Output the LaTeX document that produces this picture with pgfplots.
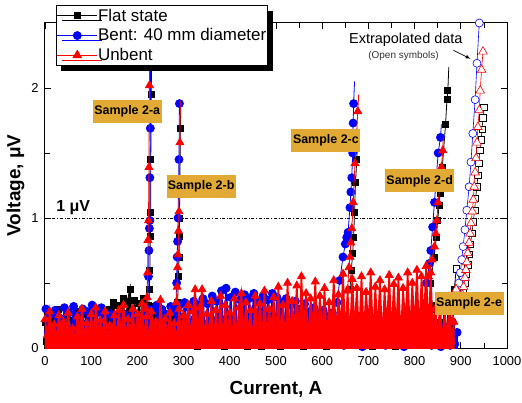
\documentclass[border=0pt]{standalone}
\usepackage{fontspec}
\setmainfont{Liberation Sans}
\usepackage{pgfplots}
\pgfplotsset{compat=1.18}
\usetikzlibrary{shadows}
\definecolor{boxgold}{RGB}{226,170,52}
\begin{document}
\begin{tikzpicture}
\begin{axis}[
  scale only axis, width=462bp, height=325bp,
  xmin=0, xmax=1000, ymin=0, ymax=2.5,
  xtick={0,100,...,1000}, minor x tick num=1,
  ytick={0,1,2}, minor y tick num=1,
  tick align=inside, major tick length=6bp, minor tick length=5bp,
  tick style={black, line width=0.8bp},
  axis line style={line width=1bp},
  /pgf/number format/assume math mode=true,
  /pgf/number format/1000 sep={},
  ticklabel style={font=\fontsize{13}{13}\selectfont},
  xticklabel style={yshift=-5bp},
  yticklabel style={xshift=-3bp},
  xlabel={Current, A}, ylabel={Voltage, μV},
  label style={font=\fontsize{19}{19}\selectfont\bfseries},
  xlabel style={yshift=-9bp},
  clip mode=individual,
  legend style={at={(0.0233,1.055)}, anchor=north west, draw=black, line width=1bp, fill=white,
    font=\fontsize{17}{17}\selectfont, row sep=1bp, inner sep=0.8bp,
    nodes={inner xsep=0.5bp, inner ysep=2.5bp},
    drop shadow={shadow xshift=5bp, shadow yshift=-5bp, fill=black, opacity=1}},
  legend cell align=left,
  legend image code/.code={\draw[mark repeat=2,mark phase=2,#1] plot coordinates {(0cm,0cm) (0.7cm,0cm) (1.4cm,0cm)};},
]
\addlegendimage{black, line width=0.8bp, mark=square*, mark size=3bp}
\addlegendentry{Flat state}
\addlegendimage{blue, line width=0.8bp, mark=*, mark size=4bp}
\addlegendentry{Bent: 40 mm diameter}
\addlegendimage{red, line width=0.8bp, mark=triangle*, mark size=5bp}
\addlegendentry{Unbent}

\addplot[black, dashdotted, line width=0.6bp, forget plot] coordinates {(0,1) (1000,1)};

% ---------------- Flat state (black) ----------------
\pgfplotsset{blk/.style={black, line width=0.8bp, mark=square*, mark size=3bp, mark options={solid}}}
\addplot[blk, line width=1.6bp, fill=black, mark options={line width=0.8bp}, forget plot] coordinates {
(0,0.20) (4,0.05) (9,0.27) (14,0.10) (19,0.22) (24,0.03) (29,0.30) (34,0.12) (39,0.18) (44,0.06)
(49,0.25) (54,0.09) (59,0.21) (64,0.02) (69,0.28) (74,0.11) (79,0.19) (84,0.07) (89,0.26) (94,0.13)
(99,0.23) (104,0.04) (109,0.29) (114,0.10) (119,0.20) (124,0.06) (129,0.27) (134,0.14) (139,0.30) (144,0.08)
(149,0.35) (154,0.11) (159,0.33) (164,0.12) (169,0.38) (174,0.15) (179,0.36) (184,0.45) (189,0.12) (194,0.37)
(199,0.10) (204,0.34) (209,0.13) (214,0.38) (219,0.09) (224,0.33) (229,0.06) (234,0.32) (239,0.12) (244,0.25)
(249,0.07) (254,0.29) (259,0.14) (264,0.22) (269,0.03) (274,0.26) (279,0.10) (284,0.21) (289,0.06) (294,0.24)
(299,0.11) (304,0.20) (309,0.02) (314,0.18) (319,0.07) (324,0.22) (329,0.01) (334,0.16) (339,0.05) (344,0.19)
(349,0.03) (354,0.15) (359,0.08) (364,0.21) (369,0.02) (374,0.17) (379,0.06) (384,0.14) (389,0.01) (394,0.19)
(399,0.04) (404,0.13) (409,0.07) (414,0.18) (419,0.02) (424,0.15) (429,0.05) (434,0.12) (439,0.01) (444,0.17)
(449,0.06) (454,0.11) (459,0.03) (464,0.16) (469,0.01) (474,0.10) (479,0.05) (484,0.14) (489,0.02) (494,0.12)
(499,0.04) (504,0.09) (509,0.01) (514,0.13) (519,0.03) (524,0.11) (529,0.06) (534,0.15) (539,0.02) (544,0.10)
(549,0.04) (554,0.13) (559,0.01) (564,0.09) (569,0.05) (574,0.14) (579,0.02) (584,0.11) (589,0.03) (594,0.16)
(599,0.05) (604,0.12) (609,0.01) (614,0.18) (619,0.06) (624,0.14) (629,0.02) (634,0.20) (639,0.07) (644,0.16)
(649,0.03) (654,0.22) (659,0.09) (664,0.17) (669,0.04) (674,0.25) (679,0.08) (684,0.19) (689,0.02) (694,0.15)
(699,0.06) (704,0.21) (709,0.01) (714,0.13) (719,0.05) (724,0.18) (729,0.02) (734,0.12) (739,0.07) (744,0.20)
(749,0.03) (754,0.15) (759,0.01) (764,0.17) (769,0.06) (774,0.11) (779,0.02) (784,0.19) (789,0.04) (794,0.14)
(799,0.08) (804,0.22) (809,0.03) (814,0.16) (819,0.05) (824,0.25) (829,0.10) (834,0.30) (839,0.06) (844,0.33)
(849,0.12) (854,0.20) (859,0.04) (864,0.28) (869,0.08) (874,0.35) (879,0.15)} \closedcycle;
% transitions
\addplot[blk, forget plot] coordinates {(224,0.28) (226,0.45) (227,0.60) (228,0.86) (229,1.04) (229,1.45) (230,1.95) (232,2.6)};
\addplot[blk, forget plot] coordinates {(287,0.35) (289,0.55) (290,0.70) (291,0.86) (291,1.00) (292,1.30) (293,1.69)};
\addplot[black, line width=0.8bp, forget plot] coordinates {(293,1.69) (294,1.85)};
\addplot[blk, forget plot] coordinates {(660,0.45) (663,0.60) (666,0.73) (668,0.85) (670,1.04) (672,1.27) (675,1.45)};
\addplot[black, line width=0.8bp, forget plot] coordinates {(675,1.45) (676,1.55)};
\addplot[blk, forget plot] coordinates {(835,0.50) (842,0.70) (847,0.85) (850,0.98) (853,1.10) (855,1.19) (860,1.39) (867,1.72) (870,1.91) (872,1.98)};
\addplot[black, line width=0.8bp, forget plot] coordinates {(872,1.98) (874,2.16)};
\addplot[blk, forget plot] coordinates {(879,0.15) (882,0.30) (886,0.45) (890,0.61)};
\addplot[black, line width=0.6bp, mark=square*, mark size=3.2bp, mark options={fill=white, line width=0.6bp}, forget plot] coordinates {
(890,0.61) (905,0.43) (909,0.50) (912,0.57) (915,0.64) (918,0.72) (921,0.80) (924,0.88) (927,0.97) (930,1.06) (932,1.15)
(935,1.24) (937,1.33) (939,1.42) (941,1.52) (944,1.60) (946,1.68) (948,1.77) (950,1.85)};

% ---------------- Bent (blue) ----------------
\pgfplotsset{blu/.style={blue, line width=0.8bp, mark=*, mark size=4bp, mark options={solid}}}
\addplot[blu, line width=1.6bp, fill=blue, mark options={line width=0.8bp}, forget plot] coordinates {
(2,0.30) (7,0.12) (12,0.26) (17,0.05) (22,0.29) (27,0.15) (32,0.23) (37,0.08) (42,0.31) (47,0.14)
(52,0.27) (57,0.03) (62,0.32) (67,0.11) (72,0.25) (77,0.16) (82,0.30) (87,0.06) (92,0.28) (97,0.13)
(102,0.33) (107,0.09) (112,0.27) (117,0.17) (122,0.31) (127,0.04) (132,0.26) (137,0.14) (142,0.26) (147,0.10)
(152,0.24) (157,0.18) (162,0.22) (167,0.07) (172,0.26) (177,0.15) (182,0.23) (187,0.05) (192,0.27) (197,0.12)
(202,0.24) (207,0.16) (212,0.22) (217,0.08) (222,0.26) (227,0.13) (232,0.29) (237,0.04) (242,0.33) (247,0.17)
(252,0.30) (257,0.09) (262,0.26) (267,0.14) (272,0.32) (277,0.06) (282,0.28) (287,0.15) (292,0.33) (297,0.10)
(302,0.35) (307,0.18) (312,0.31) (317,0.07) (322,0.36) (327,0.13) (332,0.33) (337,0.19) (342,0.38) (347,0.05)
(352,0.34) (357,0.16) (362,0.40) (367,0.11) (372,0.36) (377,0.20) (382,0.44) (387,0.08) (392,0.46) (397,0.17)
(402,0.39) (407,0.12) (412,0.43) (417,0.06) (422,0.37) (427,0.18) (432,0.41) (437,0.10) (442,0.38) (447,0.15)
(452,0.42) (457,0.04) (462,0.36) (467,0.19) (472,0.40) (477,0.09) (482,0.37) (487,0.14) (492,0.42) (497,0.07)
(502,0.39) (507,0.17) (512,0.35) (517,0.11) (522,0.38) (527,0.05) (532,0.33) (537,0.16) (542,0.36) (547,0.09)
(552,0.30) (557,0.13) (562,0.34) (567,0.04) (572,0.28) (577,0.15) (582,0.31) (587,0.08) (592,0.26) (597,0.12)
(602,0.29) (607,0.03) (612,0.24) (617,0.14) (622,0.27) (627,0.07) (632,0.22) (637,0.11) (642,0.25) (647,0.02)
(652,0.20) (657,0.09) (662,0.18) (667,0.04) (672,0.22) (677,0.10) (682,0.17) (687,0.01) (692,0.21) (697,0.08)
(702,0.24) (707,0.12) (712,0.19) (717,0.03) (722,0.23) (727,0.09) (732,0.16) (737,0.02) (742,0.20) (747,0.11)
(752,0.25) (757,0.04) (762,0.18) (767,0.08) (772,0.22) (777,0.01) (782,0.17) (787,0.10) (792,0.21) (797,0.03)
(802,0.24) (807,0.09) (812,0.19) (817,0.05) (822,0.26) (827,0.12) (832,0.20) (837,0.02) (842,0.15) (847,0.06)
(852,0.18) (857,0.01) (862,0.12) (867,0.04) (872,0.16) (877,0.02) (882,0.10) (887,0.03) (892,0.12)} \closedcycle;
\addplot[blu, forget plot] coordinates {(222,0.30) (224,0.55) (225,0.75) (226,0.92) (227,0.98) (227,1.31) (228,1.69) (229,2.6)};
\addplot[blu, forget plot] coordinates {(283,0.30) (285,0.50) (286,0.70) (287,0.82) (288,1.00) (290,1.45) (291,1.88)};
\addplot[blu, forget plot] coordinates {(632,0.35) (638,0.52) (645,0.70) (650,0.80) (653,0.85) (656,0.89) (660,1.08) (662,1.20) (664,1.31) (666,1.50) (667,1.73) (668,1.88)};
\addplot[blue, line width=0.8bp, forget plot] coordinates {(668,1.88) (670,2.05)};
\addplot[blu, forget plot] coordinates {(826,0.50) (832,0.65) (835,0.75) (839,0.93) (843,1.12) (847,1.32) (851,1.50) (856,1.62)};
\addplot[blue, line width=0.8bp, forget plot] coordinates {(856,1.62) (858,1.72)};
\addplot[blu, forget plot] coordinates {(882,0.20) (887,0.32)};
\addplot[blue, line width=0.6bp, mark=*, mark size=4bp, mark options={fill=white, line width=0.6bp}, forget plot] coordinates {
(887,0.32) (890,0.35) (893,0.42) (896,0.50) (899,0.58) (902,0.68) (905,0.78) (909,0.91) (913,1.06) (918,1.24)
(922,1.43) (926,1.65) (931,1.91) (935,2.19) (940,2.50) (942,2.7)};

% ---------------- Unbent (red) ----------------
\pgfplotsset{rd/.style={red, line width=0.8bp, mark=triangle*, mark size=4.5bp, mark options={solid}}}
\addplot[rd, line width=1.6bp, fill=red, mark options={line width=0.8bp}, forget plot] coordinates {
(0,0.22) (5,0.10) (10,0.28) (15,0.12) (20,0.18) (25,0.08) (30,0.25) (35,0.14) (40,0.20) (45,0.09)
(50,0.27) (55,0.11) (60,0.15) (65,0.07) (70,0.24) (75,0.13) (80,0.30) (85,0.09) (90,0.19) (95,0.12)
(100,0.26) (105,0.08) (110,0.31) (115,0.13) (120,0.21) (125,0.10) (130,0.28) (135,0.07) (140,0.17) (145,0.12)
(150,0.25) (155,0.08) (160,0.29) (165,0.11) (170,0.33) (175,0.09) (180,0.22) (185,0.13) (190,0.30) (195,0.07)
(200,0.26) (205,0.12) (210,0.34) (215,0.10) (220,0.24) (225,0.06) (230,0.28) (235,0.13) (240,0.20) (245,0.08)
(250,0.37) (255,0.11) (260,0.22) (265,0.07) (270,0.27) (275,0.12) (280,0.19) (285,0.06) (290,0.30) (295,0.10)
(300,0.25) (305,0.13) (310,0.33) (315,0.08) (320,0.28) (325,0.45) (330,0.07) (335,0.31) (340,0.45) (345,0.06)
(350,0.26) (355,0.09) (360,0.36) (365,0.03) (370,0.29) (375,0.08) (380,0.40) (385,0.05) (390,0.33) (395,0.11)
(400,0.27) (405,0.04) (410,0.38) (415,0.09) (420,0.31) (425,0.42) (430,0.06) (435,0.35) (440,0.12) (445,0.29)
(450,0.03) (455,0.40) (460,0.10) (465,0.34) (470,0.05) (475,0.44) (480,0.08) (485,0.30) (490,0.13) (495,0.39)
(500,0.06) (505,0.47) (510,0.11) (515,0.33) (520,0.04) (525,0.50) (530,0.09) (535,0.36) (540,0.14) (545,0.48)
(550,0.07) (555,0.55) (560,0.12) (565,0.42) (570,0.05) (575,0.38) (580,0.15) (585,0.51) (590,0.08) (595,0.40)
(600,0.13) (605,0.46) (610,0.06) (615,0.35) (620,0.16) (625,0.52) (630,0.09) (635,0.41) (640,0.14) (645,0.57)
(650,0.10) (655,0.44) (660,0.07) (665,0.53) (670,0.15) (675,0.46) (680,0.08) (685,0.55) (690,0.12) (695,0.43)
(700,0.17) (705,0.58) (710,0.09) (715,0.47) (720,0.13) (725,0.52) (730,0.06) (735,0.45) (740,0.16) (745,0.56)
(750,0.10) (755,0.49) (760,0.14) (765,0.54) (770,0.07) (775,0.46) (780,0.18) (785,0.58) (790,0.11) (795,0.50)
(800,0.15) (805,0.60) (810,0.09) (815,0.55) (820,0.20) (825,0.63) (830,0.12) (835,0.58) (840,0.05) (845,0.30)
(850,0.08) (855,0.35) (860,0.04) (865,0.28) (870,0.10) (875,0.32) (880,0.05) (885,0.20)} \closedcycle;
\addplot[rd, forget plot] coordinates {(219,0.30) (221,0.39) (222,0.58) (223,0.83) (224,0.98) (225,1.39) (226,2.02) (227,2.6)};
\addplot[rd, forget plot] coordinates {(284,0.35) (286,0.47) (287,0.62) (288,0.72) (289,0.90) (290,1.05) (292,1.58)};
\addplot[red, line width=0.8bp, forget plot] coordinates {(292,1.58) (293,1.90)};
\addplot[rd, forget plot] coordinates {(655,0.45) (658,0.62) (660,0.70) (662,0.81) (664,0.92) (667,1.12) (671,1.42) (677,1.82)};
\addplot[red, line width=0.8bp, forget plot] coordinates {(677,1.82) (679,1.95)};
\addplot[rd, forget plot] coordinates {(830,0.55) (838,0.68) (843,0.78) (846,0.88) (848,0.98) (851,1.12) (855,1.25) (858,1.39) (861,1.52)};
\addplot[red, line width=0.8bp, forget plot] coordinates {(861,1.52) (862,1.62)};
\addplot[rd, forget plot] coordinates {(880,0.20) (885,0.35) (890,0.45)};
\addplot[red, line width=0.6bp, mark=triangle*, mark size=5bp, mark options={fill=white, line width=0.6bp}, forget plot] coordinates {
(890,0.45) (900,0.36) (903,0.41) (906,0.47) (909,0.54) (911,0.60) (913,0.66) (915,0.73) (918,0.81) (920,0.88) (922,0.96)
(925,1.05) (927,1.14) (929,1.24) (931,1.35) (933,1.46) (935,1.58) (937,1.70) (940,1.83) (942,1.98) (945,2.14) (948,2.28)};

% ---------------- annotations ----------------
\tikzset{smp/.style={fill=boxgold, font=\fontsize{12.5}{12.5}\selectfont\bfseries, minimum width=69bp, minimum height=23bp, inner sep=0pt}}
\node[smp] at (axis cs:178,1.82) {Sample 2-a};
\node[smp] at (axis cs:338,1.246) {Sample 2-b};
\node[smp] at (axis cs:608,1.596) {Sample 2-c};
\node[smp] at (axis cs:811,1.285) {Sample 2-d};
\node[smp] at (axis cs:918,0.346) {Sample 2-e};
\node[font=\fontsize{16}{16}\selectfont\bfseries] at (axis cs:61,1.08) {1 μV};
\node[font=\fontsize{14.5}{14.5}\selectfont] at (axis cs:781,2.37) {Extrapolated data};
\node[font=\fontsize{10}{10}\selectfont, text=black!80] at (axis cs:776,2.25) {(Open symbols)};
\draw[-latex, line width=0.7bp] (axis cs:884,2.29) -- (axis cs:921,2.225);
\end{axis}
\pgfresetboundingbox
\path[use as bounding box] ([xshift=-45bp,yshift=-55bp]current axis.south west) rectangle ([xshift=15bp,yshift=23bp]current axis.north east);
\end{tikzpicture}
\end{document}
